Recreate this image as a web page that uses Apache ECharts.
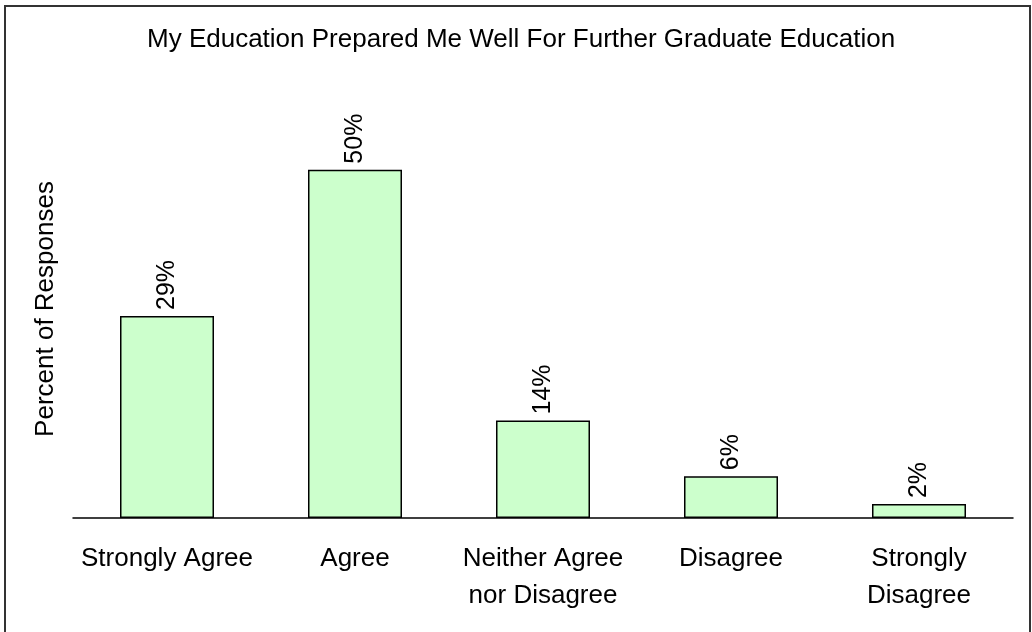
<!DOCTYPE html>
<html>
<head>
<meta charset="utf-8">
<script src="https://cdn.jsdelivr.net/npm/echarts@6/dist/echarts.min.js"></script>
<style>
html,body{margin:0;padding:0;background:#fff;}
#chart{width:1032px;height:632px;}
</style>
</head>
<body>
<div id="chart"></div>
<script>
const titleText = 'My Education Prepared Me Well For Further Graduate Education';
const yAxisName = 'Percent of Responses';
const categories = ['Strongly Agree', 'Agree', 'Neither Agree\nnor Disagree', 'Disagree', 'Strongly\nDisagree'];
const values = [29, 50, 14, 6, 2];

const FONT = '"Liberation Sans", Arial, sans-serif';
const chart = echarts.init(document.getElementById('chart'), null, {renderer: 'canvas'});
chart.setOption({
  animation: false,
  backgroundColor: '#fff',
  title: {
    text: titleText,
    left: 147,
    top: 27,
    padding: 0,
    textStyle: {fontFamily: FONT, fontSize: 26, fontWeight: 'normal', color: '#000'}
  },
  graphic: [{
    type: 'rect',
    shape: {x: 5, y: 6, width: 1025, height: 632},
    style: {fill: 'none', stroke: '#333', lineWidth: 2},
    silent: true
  }],
  grid: {left: 73, right: 19, top: 100, bottom: 114, containLabel: false},
  xAxis: {
    type: 'category',
    data: categories,
    axisLine: {show: true, lineStyle: {color: '#000', width: 1.5}},
    axisTick: {show: false},
    axisLabel: {
      fontFamily: FONT, fontSize: 26, color: '#000', margin: 22,
      lineHeight: 37, interval: 0
    }
  },
  yAxis: {
    type: 'value',
    min: 0, max: 60,
    name: yAxisName,
    nameLocation: 'middle',
    nameGap: 14,
    nameTextStyle: {fontFamily: FONT, fontSize: 26, color: '#000'},
    axisLine: {show: false},
    axisTick: {show: false},
    axisLabel: {show: false},
    splitLine: {show: false}
  },
  series: [{
    type: 'bar',
    data: values,
    barWidth: 94,
    itemStyle: {color: '#CCFFCC', borderColor: '#000', borderWidth: 1.5},
    label: {
      show: true,
      position: 'top',
      rotate: 90,
      align: 'left',
      verticalAlign: 'middle',
      distance: 6,
      formatter: '{c}%',
      fontFamily: FONT, fontSize: 25, color: '#000'
    }
  }]
});
</script>
</body>
</html>
